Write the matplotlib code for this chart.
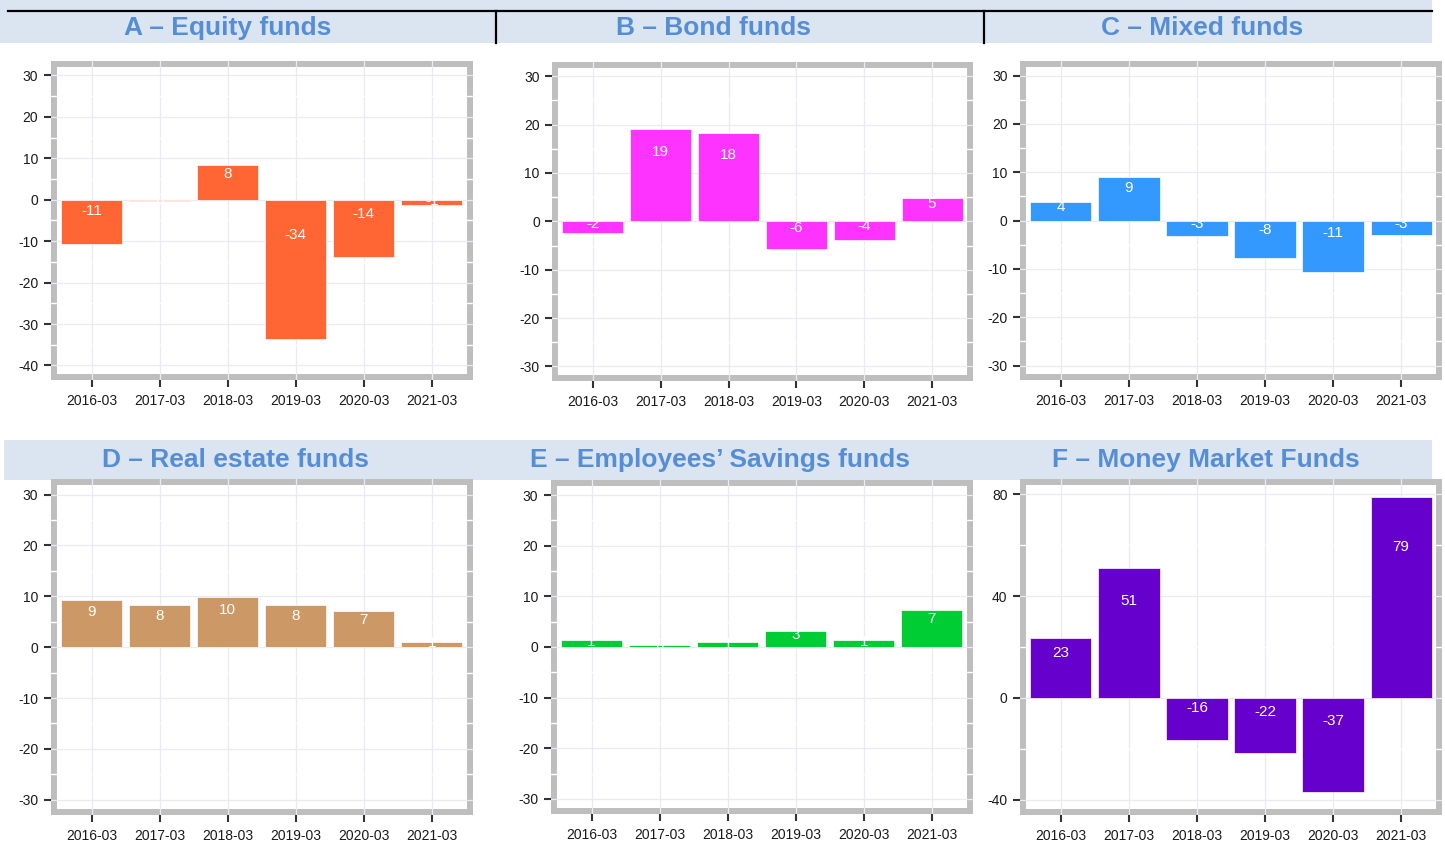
import matplotlib
matplotlib.use("Agg")
import matplotlib.pyplot as plt
from matplotlib.patches import Rectangle

plt.rcParams["font.family"] = ["Liberation Sans", "DejaVu Sans"]
plt.rcParams["axes.unicode_minus"] = False

# ---- data (net flows per year) ----
periods = ["2016-03", "2017-03", "2018-03", "2019-03", "2020-03", "2021-03"]
equity = [-10.7, -0.4, 8.3, -33.6, -13.8, -1.2]
bond = [-2.4, 19.1, 18.2, -5.8, -3.9, 4.8]
mixed = [3.8, 9.0, -3.3, -7.7, -10.6, -2.9]
real_estate = [9.2, 8.2, 9.8, 8.2, 7.2, 1.1]
savings = [1.4, 0.4, 0.9, 3.1, 1.4, 7.4]
money_market = [23.4, 51.0, -16.4, -21.8, -36.9, 79.0]

titles = ["A – Equity funds", "B – Bond funds", "C – Mixed funds",
          "D – Real estate funds", "E – Employees’ Savings funds", "F – Money Market Funds"]
series = [equity, bond, mixed, real_estate, savings, money_market]
colors = ["#FF6633", "#FF33FF", "#3399FF", "#CC9966", "#00CC33", "#6600CC"]
y_ticks = [list(range(-40, 31, 10)), list(range(-30, 31, 10)), list(range(-30, 31, 10)),
           list(range(-30, 31, 10)), list(range(-30, 31, 10)), [-40, 0, 40, 80]]

W, H = 1445, 844
BAND = "#DBE5F1"
TITLE_C = "#558ED5"
GRID = "#ECE9F6"
BORDER = "#BEBEBE"

# panel boxes in pixels: x0, x1, y_top, y_bottom
boxes = [(50.7, 472.7, 61, 380), (552.3, 972.7, 61.7, 381), (1020, 1442, 61, 380),
         (50.7, 472.7, 479.3, 815), (550.7, 972.7, 480, 814), (1020, 1442, 479, 815)]
title_pos = [(227.5, 28), (714, 28), (1202, 28), (236, 460), (720, 460), (1206, 460)]

fig = plt.figure(figsize=(W / 100, H / 100), dpi=100)

# background layer in pixel coords: header bands + separators + titles
bg = fig.add_axes([0, 0, 1, 1], zorder=-1)
bg.set_xlim(0, W); bg.set_ylim(H, 0); bg.axis("off")
bg.add_patch(Rectangle((0, 0), 1432, 42.7, color=BAND, lw=0))
bg.add_patch(Rectangle((4, 440), 1428, 40, color=BAND, lw=0))
bg.plot([8, 1432], [11, 11], color="black", lw=1.6)
for xv in (495.7, 983.5):
    bg.plot([xv, xv], [11, 42.7], color="black", lw=1.6)
for t, (tx, ty) in zip(titles, title_pos):
    bg.text(tx, ty, t, ha="center", va="center", fontsize=19, fontweight="bold", color=TITLE_C)

x = list(range(len(periods)))
for vals, col, ticks, (x0, x1, yt, yb) in zip(series, colors, y_ticks, boxes):
    ax = fig.add_axes([x0 / W, 1 - yb / H, (x1 - x0) / W, (yb - yt) / H])
    lo, hi = ticks[0], ticks[-1]
    pad = (hi - lo) * 0.05
    ax.set_ylim(lo - pad, hi + pad)
    ax.set_xlim(-0.6, len(periods) - 0.4)
    for s in ax.spines.values():
        s.set_visible(False)
    ax.set_axisbelow(True)
    # thick grey panel border drawn inside the panel (outer half is clipped)
    ax.add_patch(Rectangle((0, 0), 1, 1, transform=ax.transAxes, fill=False,
                           ec=BORDER, lw=8.6, zorder=0.3))
    ax.set_yticks(ticks)
    ax.set_yticks([(a + b) / 2 for a, b in zip(ticks[:-1], ticks[1:])], minor=True)
    ax.set_xticks(x)
    ax.set_xticklabels(periods)
    ax.grid(which="minor", axis="y", color="white", lw=1.0)
    ax.grid(which="major", color=GRID, lw=0.9)
    ax.tick_params(which="minor", length=0)
    ax.tick_params(which="major", length=5, width=1.5, color="#333333",
                   labelsize=10, labelcolor="#1A1A1A")
    ax.tick_params(axis="y", pad=4)
    ax.tick_params(axis="x", pad=5)
    ax.bar(x, vals, width=0.9, color=col, edgecolor="white", linewidth=0.5, zorder=1)
    for xi, v in zip(x, vals):
        ly = v * 0.75 if v > 0 else v * 0.25
        ax.text(xi, ly, f"{int(round(v))}", ha="center", va="center",
                color="white", fontsize=11, zorder=3)

fig.savefig("out.png", dpi=100)
